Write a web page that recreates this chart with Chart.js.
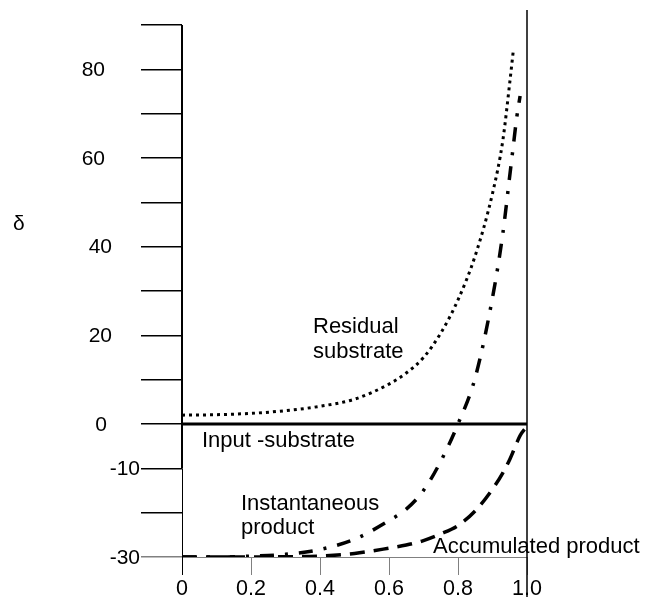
<!DOCTYPE html>
<html>
<head>
<meta charset="utf-8">
<script src="https://cdn.jsdelivr.net/npm/chart.js@4.4.1/dist/chart.umd.min.js"></script>
<style>
  html, body { margin: 0; padding: 0; background: #fff; }
  #wrap { width: 654px; height: 597px; }
</style>
</head>
<body>
<div id="wrap"><canvas id="deltaChart" width="654" height="597"></canvas></div>
<script>
// fraction of substrate consumed
const fraction = [0, 0.1, 0.2, 0.3, 0.4, 0.5, 0.6, 0.65, 0.7, 0.75, 0.8, 0.85, 0.9, 0.93, 0.95, 0.96, 0.97, 0.98, 1.0];
// delta values (null = curve not drawn there)
const residualSubstrate = [2.0, 2.1, 2.4, 3.0, 4.0, 5.6, 9.0, 11.5, 15.0, 20.5, 28.0, 38.0, 52.0, 64.0, 77.0, 84.0, null, null, null];
const instantaneousProduct = [-30, -30, -29.8, -29.4, -28.3, -26.0, -21.8, -19.2, -15.0, -8.4, 0, 10.5, 28.5, 43.0, 56.0, 62.5, 69.0, 74.0, null];
const accumulatedProduct = [-30, -30, -30, -29.95, -29.8, -29.2, -28.0, -27.3, -26.3, -24.8, -22.9, -19.6, -14.7, -11.0, -8.0, -6.2, -4.3, -2.6, -0.5];
const inputX = [0, 1];
const inputSubstrate = [0, 0];
const xTicks = [0, 0.2, 0.4, 0.6, 0.8, 1.0];
const yLabelValues = [80, 60, 40, 20, 0, -10, -30];

const FONT = '"Liberation Sans", Arial, sans-serif';

function pairs(xs, ys) {
  const out = [];
  xs.forEach(function (x, i) {
    if (ys[i] !== null) out.push({ x: x, y: ys[i] });
  });
  return out;
}

// axis decoration and in-plot text
const decor = {
  id: 'decor',
  afterDraw: function (chart) {
    const c = chart.ctx;
    const xs = chart.scales.x;
    const ys = chart.scales.y;
    const area = chart.chartArea;
    c.save();
    c.strokeStyle = '#000';
    // left spine: heavy down to -10, thin below
    c.lineWidth = 2;
    c.beginPath();
    c.moveTo(area.left, ys.getPixelForValue(90));
    c.lineTo(area.left, ys.getPixelForValue(-10));
    c.stroke();
    c.lineWidth = 1;
    c.beginPath();
    c.moveTo(area.left + 0.5, ys.getPixelForValue(-10));
    c.lineTo(area.left + 0.5, area.bottom + 18);
    c.stroke();
    // right line
    c.lineWidth = 1.5;
    c.beginPath();
    c.moveTo(xs.getPixelForValue(1), 10);
    c.lineTo(xs.getPixelForValue(1), 597);
    c.stroke();

    c.fillStyle = '#000';
    c.font = '21px ' + FONT;
    // y tick labels (right edges as in the figure)
    const rightEdge = { 80: 105, 60: 105, 40: 112, 20: 112, 0: 107, '-10': 140, '-30': 140 };
    c.textAlign = 'right';
    c.textBaseline = 'middle';
    yLabelValues.forEach(function (v) {
      c.fillText(String(v), rightEdge[v], ys.getPixelForValue(v) + 1);
    });

    c.textAlign = 'left';
    c.textBaseline = 'alphabetic';
    c.fillText('δ', 13, 230);
    c.font = '22px ' + FONT;
    c.fillText('Residual', 313, 333);
    c.fillText('substrate', 313, 358);
    c.fillText('Input -substrate', 202, 447);
    c.fillText('Instantaneous', 241, 510);
    c.fillText('product', 241, 534);
    c.fillText('Accumulated product', 433, 553);
    c.restore();
  }
};

new Chart(document.getElementById('deltaChart').getContext('2d'), {
  type: 'line',
  data: {
    datasets: [
      {
        label: 'Input -substrate',
        data: pairs(inputX, inputSubstrate),
        borderColor: '#000',
        borderWidth: 3,
        pointRadius: 0
      },
      {
        label: 'Residual substrate',
        data: pairs(fraction, residualSubstrate),
        borderColor: '#000',
        borderWidth: 3,
        borderDash: [3, 4],
        pointRadius: 0,
        cubicInterpolationMode: 'monotone'
      },
      {
        label: 'Instantaneous product',
        data: pairs(fraction, instantaneousProduct),
        borderColor: '#000',
        borderWidth: 3.5,
        borderDash: [14, 11, 3, 11],
        pointRadius: 0,
        cubicInterpolationMode: 'monotone'
      },
      {
        label: 'Accumulated product',
        data: pairs(fraction, accumulatedProduct),
        borderColor: '#000',
        borderWidth: 3.5,
        borderDash: [15, 9],
        pointRadius: 0,
        cubicInterpolationMode: 'monotone'
      }
    ]
  },
  options: {
    responsive: false,
    animation: false,
    devicePixelRatio: 1,
    layout: { padding: { left: 0, top: 25, right: 127, bottom: 0 } },
    plugins: {
      legend: { display: false },
      tooltip: { enabled: false }
    },
    scales: {
      x: {
        type: 'linear',
        min: 0,
        max: 1,
        afterFit: function (s) { s.height = 40; },
        afterBuildTicks: function (s) { s.ticks = xTicks.map(function (v) { return { value: v }; }); },
        grid: { drawOnChartArea: false, drawTicks: true, tickLength: 18, color: '#808080', lineWidth: 1 },
        border: { display: true, color: '#808080', width: 1 },
        ticks: {
          color: '#000',
          padding: 1,
          maxRotation: 0,
          font: { family: FONT, size: 21.5 },
          callback: function (v) { return v === 0 ? '0' : v.toFixed(1); }
        }
      },
      y: {
        type: 'linear',
        min: -30,
        max: 90,
        afterFit: function (s) { s.width = 182; },
        ticks: { display: false, stepSize: 10 },
        grid: {
          drawOnChartArea: false,
          drawTicks: true,
          tickLength: 41,
          lineWidth: 1.5,
          color: function (ctx) { return ctx.tick && ctx.tick.value === -30 ? '#808080' : '#000'; }
        },
        border: { display: false }
      }
    }
  },
  plugins: [decor]
});
</script>
</body>
</html>
